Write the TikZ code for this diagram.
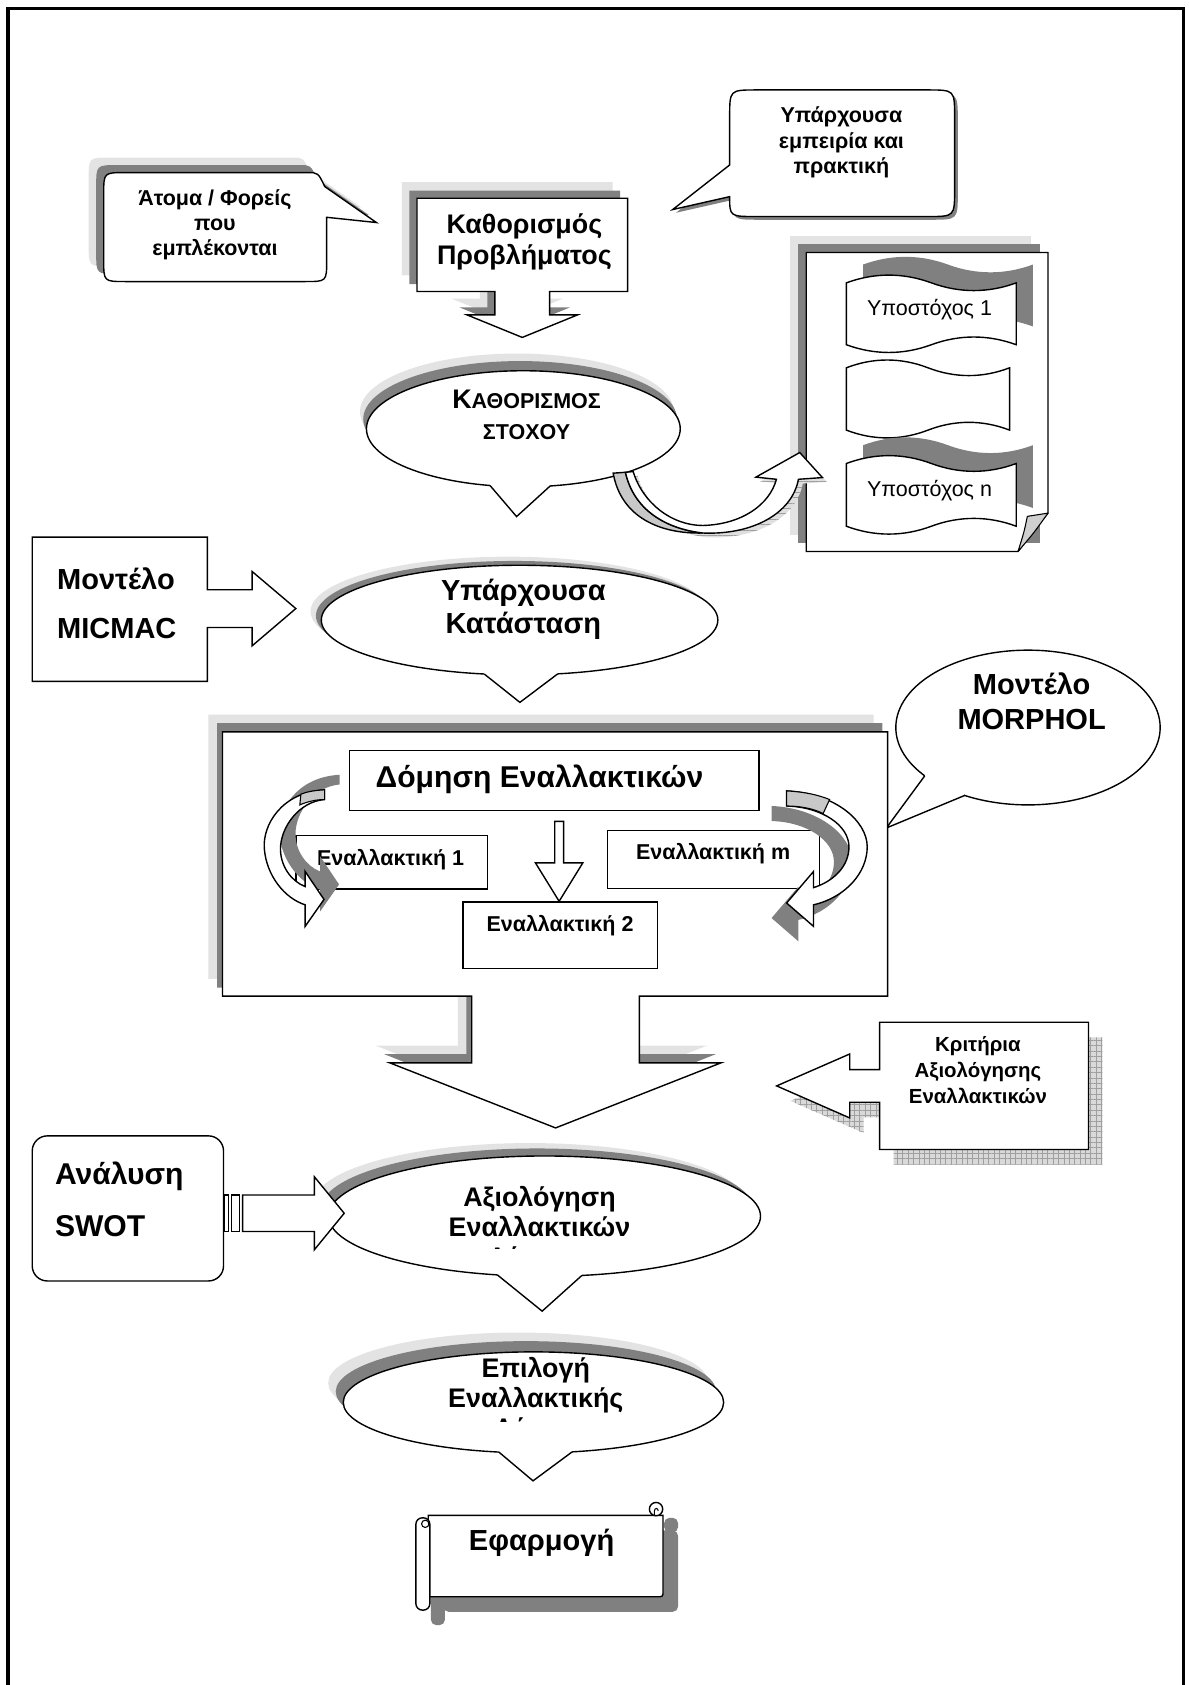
\documentclass[tikz,border=0pt]{standalone}
\usepackage{fontspec}
\setmainfont{Liberation Sans}
\usetikzlibrary{patterns,patterns.meta}

\definecolor{shdark}{HTML}{808080}
\definecolor{shlight}{HTML}{E3E3E3}
\definecolor{backface}{HTML}{C8C8C8}
\definecolor{foldgray}{HTML}{D0D0D0}

\newcommand\fsz[2]{\fontsize{#1}{#2}\selectfont}

% punched-tape banner: left, top, right, bottom
\newcommand\wavepath[4]{%
 (#1,{#2+0.1*(#4-#2)})
 .. controls ({#1+0.165*(#3-#1)},{#2-0.0333*(#4-#2)}) and ({#1+0.335*(#3-#1)},{#2-0.0333*(#4-#2)}) .. ({0.5*(#1+#3)},{#2+0.1*(#4-#2)})
 .. controls ({#1+0.665*(#3-#1)},{#2+0.2333*(#4-#2)}) and ({#1+0.835*(#3-#1)},{#2+0.2333*(#4-#2)}) .. (#3,{#2+0.1*(#4-#2)})
 -- (#3,{#4-0.1*(#4-#2)})
 .. controls ({#1+0.835*(#3-#1)},{#4-0.2333*(#4-#2)}) and ({#1+0.665*(#3-#1)},{#4-0.2333*(#4-#2)}) .. ({0.5*(#1+#3)},{#4-0.1*(#4-#2)})
 .. controls ({#1+0.335*(#3-#1)},{#4+0.0333*(#4-#2)}) and ({#1+0.165*(#3-#1)},{#4+0.0333*(#4-#2)}) .. (#1,{#4-0.1*(#4-#2)})
 -- cycle}

% outlines of the shapes
\newcommand\pCallA{(116.5,160.6) -- (286,160.6) .. controls (296,160.6) .. (302.2,173.6) -- (350.3,207.1) -- (304,202.2) -- (304,242) .. controls (304,262) .. (284,262) -- (116.5,262) .. controls (96.5,262) .. (96.5,242) -- (96.5,180.6) .. controls (96.5,160.6) .. (116.5,160.6) -- cycle}
\newcommand\pKath{(388,184.5) -- (584,184.5) -- (584,271.3) -- (511.5,271.3) -- (511.5,293) -- (537.5,293) -- (486,314) -- (434.5,293) -- (460.5,293) -- (460.5,271.3) -- (388,271.3) -- cycle}
\newcommand\pCallB{(704,83.7) -- (863.3,83.7) .. controls (888.3,83.7) .. (888.3,108.7) -- (888.3,176.5) .. controls (888.3,201.5) .. (863.3,201.5) -- (704,201.5) .. controls (679,201.5) .. (679,183) -- (626,195) -- (679,153.5) -- (679,108.7) .. controls (679,83.7) .. (704,83.7) -- cycle}
\newcommand\pBigBox{(207,681) -- (826,681) -- (826,927) -- (595,927) -- (595,989) -- (671,989) -- (517,1049.6) -- (362.6,989) -- (439,989) -- (439,927) -- (207,927) -- cycle}
\newcommand\pCrit{(818.5,951.3) -- (1012.9,951.3) -- (1012.9,1069.7) -- (818.5,1069.7) -- (818.5,1025.7) -- (790.7,1025.7) -- (790.7,1040.3) -- (722.7,1010.5) -- (790.7,980.8) -- (790.7,995.3) -- (818.5,995.3) -- cycle}
\newcommand\pGoalArrow{(582,439.5) .. controls (590,475) and (620,492) .. (654,496) .. controls (700,498) and (737,478) .. (743,446) -- (765.3,444.4) -- (744.2,421.1) -- (703.4,444) -- (722.5,446) .. controls (716,470) and (690,488) .. (654,489) .. controls (625,489) and (598,468) .. (589.2,438.8) -- cycle}
\newcommand\pLeftTurn{(302,735) .. controls (262,737) and (244,768) .. (246,790) .. controls (248,815) and (265,836) .. (284,842) -- (284,862) -- (301.5,837) -- (284,811) -- (284,825) .. controls (271,820) and (261,806) .. (261,790) .. controls (261,770) and (278,746) .. (302,744) -- cycle}
\newcommand\pRightTurn{(732,736) .. controls (777,738) and (807,764) .. (807,788) .. controls (807,812) and (787,835) .. (757,842) -- (757,862) -- (732,840.3) -- (757,811) -- (757,826) .. controls (776,820) and (790,806) .. (790,788) .. controls (790,768) and (765,751) .. (732,750) -- cycle}

\tikzset{
  outl/.style={draw=black, line width=1.3pt, fill=white, line join=miter},
  dsh/.style={fill=shdark},
  lsh/.style={fill=shlight},
  lbl/.style={inner sep=0pt, align=center},
  hatchA/.style={pattern={Lines[angle=0,distance=5pt,line width=0.5pt]}, pattern color=gray!75},
  hatchB/.style={pattern={Lines[angle=90,distance=5pt,line width=0.5pt]}, pattern color=gray!75},
}

\begin{document}
\begin{tikzpicture}[x=1pt,y=-1pt]
\useasboundingbox (0,0) rectangle (1106,1568);
\fill[white] (0,0) rectangle (1106,1568);

% page frame, open at the bottom
\draw[line width=3pt] (7.5,1575) -- (7.5,8) -- (1101.5,8) -- (1101.5,1575);

% --- people involved (speech callout) ---
\fill[lsh, shift={(-14,-14)}] \pCallA;
\fill[dsh, shift={(-7,-7)}] \pCallA;
\draw[outl] \pCallA;
\node[lbl, font=\bfseries\fsz{20}{23}] (people) at (200,209) {Άτομα / Φορείς\\που\\εμπλέκονται};

% --- problem definition (box with down arrow) ---
\fill[lsh, shift={(-14,-15)}] \pKath;
\fill[dsh, shift={(-7,-7)}] \pKath;
\draw[outl] \pKath;
\node[lbl, font=\bfseries\fsz{25}{29}] (problem) at (488,225) {Καθορισμός\\Προβλήματος};

% --- experience callout ---
\fill[dsh, shift={(3,3)}] \pCallB;
\draw[outl] \pCallB;
\node[lbl, font=\bfseries\fsz{20}{24}] (experience) at (783,132.5) {Υπάρχουσα\\εμπειρία και\\πρακτική};

% --- sub-goal document ---
\fill[lsh] (734.8,220) rectangle (959.7,498.2);
\fill[dsh] (742.5,227.5) rectangle (967.4,505.7);
\draw[outl] (750.3,235) -- (975.2,235) -- (975.2,477.5) .. controls (963,492) .. (947.3,513.2) -- (750.3,513.2) -- cycle;
\filldraw[fill=foldgray, line width=1pt, line join=round] (975.2,477.5) .. controls (965,479) .. (956,480.5) .. controls (953,495) .. (947.3,513.2) .. controls (962,496) .. (975.2,477.5) -- cycle;

\fill[dsh, shift={(15.5,-17)}] \wavepath{787.6}{256}{945.7}{328};
\draw[outl] \wavepath{787.6}{256}{945.7}{328};
\node[lbl, font=\fsz{20}{24}] (sub1) at (865,288) {Υποστόχος 1};

\draw[outl] \wavepath{787.6}{335}{939.5}{407.5};

\fill[dsh, shift={(15.5,-17)}] \wavepath{787.6}{424}{945.7}{497};
\draw[outl] \wavepath{787.6}{424}{945.7}{497};
\node[lbl, font=\fsz{20}{24}] (subn) at (865,457) {Υποστόχος n};

% --- goal definition (ellipse callout) ---
\fill[lsh, shift={(-6,-16)}] (487,399) ellipse [x radius=146pt, y radius=54pt];
\fill[dsh, shift={(-3,-9)}] (487,399) ellipse [x radius=146pt, y radius=54pt];
\draw[outl] (487,399) ellipse [x radius=146pt, y radius=54pt];
\fill[white] (456,451.8) -- (480.7,480.7) -- (512,452.2) -- (512,444) -- (456,444) -- cycle;
\draw[line width=1.3pt] (456,451.8) -- (480.7,480.7) -- (512,452.2);
\node[lbl, font=\bfseries\fsz{20}{29}] (goal) at (490,386) {{\fsz{25}{29}Κ}ΑΘΟΡΙΣΜΟΣ\\ΣΤΟΧΟΥ};

% curved arrow from the goal to the sub-goals
\begin{scope}[shift={(4,4)}]
  \fill[gray!25] \pGoalArrow;
  \fill[hatchA] \pGoalArrow;
\end{scope}
\filldraw[fill=backface, line width=1.3pt] (570.6,440.3) .. controls (578,482) and (615,497) .. (654,496) .. controls (620,492) and (590,475) .. (582,439.5) -- cycle;
\draw[outl] \pGoalArrow;

% --- MICMAC model with right arrow ---
\draw[outl] (30,499.8) -- (193,499.8) -- (193,548.8) -- (234.6,548.8) -- (234.6,531.8) -- (275.3,566.3) -- (234.6,601) -- (234.6,583.9) -- (193,583.9) -- (193,634) -- (30,634) -- cycle;
\node[lbl, anchor=west, font=\bfseries\fsz{27}{31}] (micmacA) at (53,539) {Μοντέλο};
\node[lbl, anchor=west, font=\bfseries\fsz{27}{31}] (micmacB) at (53,585) {MICMAC};

% --- current situation (ellipse callout) ---
\fill[lsh, shift={(-10,-8)}] (483.5,577) ellipse [x radius=184.5pt, y radius=51pt];
\fill[dsh, shift={(-5,-4)}] (483.5,577) ellipse [x radius=184.5pt, y radius=51pt];
\draw[outl] (483.5,577) ellipse [x radius=184.5pt, y radius=51pt];
\fill[white] (450.6,627.2) -- (483.8,653.6) -- (519.1,627) -- (519.1,620) -- (450.6,620) -- cycle;
\draw[line width=1.3pt] (450.6,627.2) -- (483.8,653.6) -- (519.1,627);
\node[lbl, font=\bfseries\fsz{27}{31}] (current) at (487,567) {Υπάρχουσα\\Κατάσταση};

% --- MORPHOL model (ellipse callout) ---
\draw[outl] (956.6,677) ellipse [x radius=123pt, y radius=72pt];
\fill[white] (860.5,722) -- (824.8,770.5) -- (897.7,740.2) -- (890,730) -- (866,715) -- cycle;
\draw[line width=1.3pt] (860.5,722) -- (824.8,770.5) -- (897.7,740.2);
\node[lbl, font=\bfseries\fsz{27}{32}] (morphol) at (960,652.5) {Μοντέλο\\MORPHOL};

% --- structuring of alternatives (large box with down arrow) ---
\fill[lsh, shift={(-13,-16)}] \pBigBox;
\fill[dsh, shift={(-5,-8)}] \pBigBox;
\draw[outl] \pBigBox;

\node[draw, line width=1.3pt, fill=white, minimum width=381.3pt, minimum height=55.9pt, inner sep=0pt] (struct) at (515.75,726.15) {};
\node[lbl, font=\bfseries\fsz{28}{32}] at (502,725) {Δόμηση Εναλλακτικών};
\node[draw, line width=1.3pt, fill=white, minimum width=178.6pt, minimum height=49.9pt, inner sep=0pt] (alt1) at (364.6,802.25) {};
\node[lbl, font=\bfseries\fsz{20}{24}] at (363.5,799.5) {Εναλλακτική 1};
\node[draw, line width=1.3pt, fill=white, minimum width=197.2pt, minimum height=54.2pt, inner sep=0pt] (altm) at (663.8,799.8) {};
\node[lbl, font=\bfseries\fsz{20}{24}] at (663.6,794.4) {Εναλλακτική m};
\node[draw, line width=1.3pt, fill=white, minimum width=180.7pt, minimum height=62.1pt, inner sep=0pt] (alt2) at (521.35,870.35) {};
\node[lbl, font=\bfseries\fsz{20}{24}] at (521.1,861) {Εναλλακτική 2};

\draw[outl] (516.2,764.3) -- (524.5,764.3) -- (524.5,803) -- (542.3,803) -- (520.3,838.7) -- (498.3,803) -- (516.2,803) -- cycle;

% turning arrows on both sides
\fill[dsh, shift={(14,-14)}] \pLeftTurn;
\draw[outl] \pLeftTurn;
\filldraw[fill=backface, line width=1pt] (302,735) .. controls (292,735.5) and (285,737) .. (280,739) -- (279,749) .. controls (286,746) and (294,744) .. (302,744) -- cycle;

\fill[dsh, shift={(-14,14)}] \pRightTurn;
\draw[outl] \pRightTurn;
\filldraw[fill=backface, line width=1pt] (732,736) .. controls (750,737) and (762,740) .. (772,744) -- (766,757) .. controls (758,753) and (746,750) .. (732,750) -- cycle;

% --- evaluation criteria (box with left arrow, hatched shadow) ---
\begin{scope}[shift={(13,14)}]
  \fill[gray!30] \pCrit;
  \fill[hatchA] \pCrit;
  \fill[hatchB] \pCrit;
\end{scope}
\draw[outl] \pCrit;
\node[lbl, font=\bfseries\fsz{19}{24}] (criteria) at (910,996) {Κριτήρια\\Αξιολόγησης\\Εναλλακτικών};

% --- evaluation of alternatives (ellipse callout) ---
\fill[lsh, shift={(-14,-12)}] (506.7,1131.7) ellipse [x radius=201pt, y radius=56pt];
\fill[dsh, shift={(-7,-7)}] (506.7,1131.7) ellipse [x radius=201pt, y radius=56pt];
\draw[outl] (506.7,1131.7) ellipse [x radius=201pt, y radius=56pt];
\fill[white] (462.8,1186.35) -- (504.5,1220.1) -- (541.5,1186.86) -- (541.5,1178) -- (462.8,1178) -- cycle;
\draw[line width=1.3pt] (462.8,1186.35) -- (504.5,1220.1) -- (541.5,1186.86);
\node[lbl, font=\bfseries\fsz{25}{28}] (evaluation) at (502,1127) {Αξιολόγηση\\Εναλλακτικών};
\begin{scope}
  \clip (300,1150) rectangle (720,1162);
  \node[lbl, font=\bfseries\fsz{25}{28}] at (502,1169) {Λύσεων};
\end{scope}

% --- SWOT analysis with striped arrow ---
\draw[outl, rounded corners=14pt] (30,1057) rectangle (208,1192);
\node[lbl, anchor=west, font=\bfseries\fsz{28}{32}] (swotA) at (51,1094.5) {Ανάλυση};
\node[lbl, anchor=west, font=\bfseries\fsz{28}{32}] (swotB) at (51,1141) {SWOT};
\draw[outl, line width=1pt] (209.2,1112) rectangle (213,1146);
\draw[outl, line width=1pt] (215.2,1112) rectangle (223,1146);
\draw[outl] (225.8,1112) -- (292.5,1112) -- (292.5,1095) -- (320.3,1129) -- (292.5,1163) -- (292.5,1146) -- (225.8,1146) -- cycle;

% --- choice of alternative (ellipse callout) ---
\fill[lsh, shift={(-14,-18)}] (496.4,1305) ellipse [x radius=177pt, y radius=47pt];
\fill[dsh, shift={(-7,-10)}] (496.4,1305) ellipse [x radius=177pt, y radius=47pt];
\draw[outl] (496.4,1305) ellipse [x radius=177pt, y radius=47pt];
\fill[white] (464.2,1351.2) -- (496,1378) -- (532.5,1351) -- (532.5,1343) -- (464.2,1343) -- cycle;
\draw[line width=1.3pt] (464.2,1351.2) -- (496,1378) -- (532.5,1351);
\node[lbl, font=\bfseries\fsz{25}{28}] (choice) at (498.6,1289) {Επιλογή\\Εναλλακτικής};
\begin{scope}
  \clip (300,1310) rectangle (700,1323);
  \node[lbl, font=\bfseries\fsz{25}{28}] at (498.6,1331) {Λύσης};
\end{scope}

% --- implementation (scroll) ---
\begin{scope}[shift={(14,14)}]
  \fill[shdark, rounded corners=5pt] (387,1412.4) rectangle (400,1498.3);
  \fill[shdark, rounded corners=5pt] (398.5,1410.2) rectangle (617,1485.9);
  \fill[shdark, rounded corners=5pt] (604,1398.4) rectangle (617,1412);
\end{scope}
\draw[outl] (398.5,1410.2) -- (617,1410.2) -- (617,1480) .. controls (617,1485.9) .. (611,1485.9) -- (398.5,1485.9) -- cycle;
\draw[outl] (610.5,1404.3) circle [radius=6.2pt];
\draw[line width=1pt] (609,1410.2) -- (609,1406) .. controls (609,1403) and (612.5,1403) .. (612.5,1406);
\draw[outl, rounded corners=6pt] (387,1412.4) rectangle (400,1498.3);
\draw[line width=1pt] (395.7,1418) circle [radius=3.4pt];
\node[lbl, font=\bfseries\fsz{27}{31}] (implement) at (504,1435.6) {Εφαρμογή};

\end{tikzpicture}
\end{document}
